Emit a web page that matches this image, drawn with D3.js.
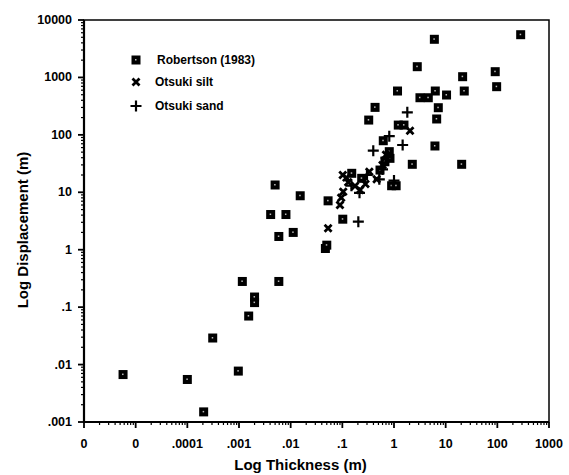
<!DOCTYPE html>
<html>
<head>
<meta charset="utf-8">
<script src="https://cdn.jsdelivr.net/npm/d3@7"></script>
<style>
  body { margin: 0; background: #fff; }
  text { font-family: "Liberation Sans", Arial, sans-serif; font-weight: bold; fill: #000; }
</style>
</head>
<body>
<div id="chart"></div>
<script>
// Robertson (1983): [thickness m, displacement m]
const robertson = [
  [5.7e-6, 0.0067], [1e-4, 0.0055], [2.07e-4, 0.0015], [3.1e-4, 0.029], [9.7e-4, 0.0077],
  [0.00116, 0.28], [0.00154, 0.07], [0.002, 0.15], [0.002, 0.12], [0.0059, 0.28],
  [0.0059, 1.7], [0.0112, 2.0], [0.0041, 4.1], [0.0081, 4.1], [0.005, 13.4],
  [0.0153, 8.7], [0.053, 7.1], [0.047, 1.05], [0.05, 1.2], [0.102, 3.4],
  [0.152, 21.4], [0.237, 17.5], [0.536, 24.4], [0.668, 34], [0.836, 39],
  [0.81, 51], [0.62, 79], [1.21, 148], [1.56, 148], [0.9, 13], [1.1, 13],
  [2.26, 30.7], [20.4, 30.7], [6.2, 64], [6.7, 189], [7.2, 297], [0.43, 301],
  [0.324, 181], [3.18, 443], [4.61, 443], [10.4, 494], [1.17, 580], [6.3, 580],
  [22.9, 580], [2.82, 1538], [21.3, 1030], [91, 1259], [97, 690], [6.04, 4613], [283, 5548]
];
// Otsuki silt
const otsukiSilt = [
  [0.053, 2.36], [0.09, 6.0], [0.095, 8], [0.104, 10.2], [0.102, 20], [0.13, 15],
  [0.176, 12.9], [0.22, 11], [0.333, 22.8], [0.462, 16.8], [0.6, 30], [0.7, 45],
  [2.04, 118], [0.12, 18], [0.28, 14]
];
// Otsuki sand
const otsukiSand = [
  [0.204, 3.08], [0.397, 53], [0.81, 95], [1.47, 66.6], [1.81, 247], [1.0, 16],
  [0.52, 16.8], [0.15, 13], [0.215, 9.8], [0.3, 20], [0.7, 40], [0.6, 25]
];

const xTicks = [1e-6, 1e-5, 1e-4, 1e-3, 1e-2, 1e-1, 1, 10, 100, 1000];
const xTickLabels = ['0', '0', '.0001', '.001', '.01', '.1', '1', '10', '100', '1000'];
const yTicks = [0.001, 0.01, 0.1, 1, 10, 100, 1000, 10000];
const yTickLabels = ['.001', '.01', '.1', '1', '10', '100', '1000', '10000'];
const legendItems = ['Robertson (1983)', 'Otsuki silt', 'Otsuki sand'];

const width = 569, height = 475;
const margin = { top: 20, right: 20, bottom: 53, left: 84 };
const innerW = width - margin.left - margin.right;
const innerH = height - margin.top - margin.bottom;

const svg = d3.select('#chart').append('svg')
  .attr('width', width)
  .attr('height', height);

const g = svg.append('g').attr('transform', `translate(${margin.left},${margin.top})`);

const x = d3.scaleLog().domain([1e-6, 1000]).range([0, innerW]);
const y = d3.scaleLog().domain([0.001, 10000]).range([innerH, 0]);

// minor ticks 2..9 for every decade
const minor = (ticks) => {
  const out = [];
  ticks.slice(0, -1).forEach(t => { for (let k = 2; k <= 9; k++) out.push(t * k); });
  return out;
};

// frame
g.append('rect')
  .attr('width', innerW).attr('height', innerH)
  .attr('fill', 'none').attr('stroke', '#000').attr('stroke-width', 1.5);

// x axis
const xAxis = g.append('g').attr('transform', `translate(0,${innerH})`);
xAxis.append('line').attr('x1', 0).attr('x2', innerW).attr('stroke', '#000').attr('stroke-width', 2.2);
xAxis.selectAll('.minor').data(minor(xTicks)).join('line')
  .attr('x1', d => x(d)).attr('x2', d => x(d)).attr('y1', 0).attr('y2', 3)
  .attr('stroke', '#000').attr('stroke-width', 1.2);
xAxis.selectAll('.major').data(xTicks).join('line')
  .attr('x1', d => x(d)).attr('x2', d => x(d)).attr('y1', 0).attr('y2', 6)
  .attr('stroke', '#000').attr('stroke-width', 1.8);
xAxis.selectAll('text.tl').data(xTicks).join('text')
  .attr('class', 'tl')
  .attr('x', d => x(d)).attr('y', 26)
  .attr('text-anchor', 'middle')
  .style('font-size', '12.5px')
  .text((d, i) => xTickLabels[i]);

// y axis
const yAxis = g.append('g');
yAxis.append('line').attr('y1', 0).attr('y2', innerH).attr('stroke', '#000').attr('stroke-width', 2.2);
yAxis.selectAll('.minor').data(minor(yTicks)).join('line')
  .attr('y1', d => y(d)).attr('y2', d => y(d)).attr('x1', -3).attr('x2', 0)
  .attr('stroke', '#000').attr('stroke-width', 1.2);
yAxis.selectAll('.major').data(yTicks).join('line')
  .attr('y1', d => y(d)).attr('y2', d => y(d)).attr('x1', -6).attr('x2', 0)
  .attr('stroke', '#000').attr('stroke-width', 1.8);
yAxis.selectAll('text.tl').data(yTicks).join('text')
  .attr('class', 'tl')
  .attr('x', -12).attr('y', d => y(d) + 4)
  .attr('text-anchor', 'end')
  .style('font-size', '12.5px')
  .text((d, i) => yTickLabels[i]);

// axis titles
svg.append('text')
  .attr('x', margin.left + innerW / 2 - 16).attr('y', 470)
  .attr('text-anchor', 'middle')
  .style('font-size', '15px')
  .text('Log Thickness (m)');
svg.append('text')
  .attr('transform', `translate(28,${margin.top + innerH / 2 + 9}) rotate(-90)`)
  .attr('text-anchor', 'middle')
  .style('font-size', '15px')
  .text('Log Displacement (m)');

// marker helpers
const drawSquare = (sel) => {
  sel.append('rect').attr('x', -4.5).attr('y', -4.5).attr('width', 9).attr('height', 9).attr('fill', '#000');
  sel.append('rect').attr('x', -1).attr('y', -1).attr('width', 1.5).attr('height', 1.5).attr('fill', '#bbb');
};
const drawCross = (sel) => {
  sel.append('path').attr('d', 'M-3.5,-3.5L3.5,3.5M-3.5,3.5L3.5,-3.5')
    .attr('stroke', '#000').attr('stroke-width', 2.8).attr('fill', 'none');
};
const drawPlus = (sel) => {
  sel.append('path').attr('d', 'M-5.5,0L5.5,0M0,-5.5L0,5.5')
    .attr('stroke', '#000').attr('stroke-width', 2.2).attr('fill', 'none');
};

g.append('g').selectAll('g').data(robertson).join('g')
  .attr('transform', d => `translate(${x(d[0])},${y(d[1])})`)
  .call(drawSquare);
g.append('g').selectAll('g').data(otsukiSilt).join('g')
  .attr('transform', d => `translate(${x(d[0])},${y(d[1])})`)
  .call(drawCross);
g.append('g').selectAll('g').data(otsukiSand).join('g')
  .attr('transform', d => `translate(${x(d[0])},${y(d[1])})`)
  .call(drawPlus);

// legend
const legend = svg.append('g');
const legendY = [60, 82, 106];
const markers = [drawSquare, drawCross, drawPlus];
legendItems.forEach((name, i) => {
  legend.append('g').attr('transform', `translate(136,${legendY[i]})`).call(markers[i]);
  legend.append('text')
    .attr('x', i === 0 ? 157 : 155).attr('y', legendY[i] + 4)
    .style('font-size', '12px')
    .text(name);
});
</script>
</body>
</html>
